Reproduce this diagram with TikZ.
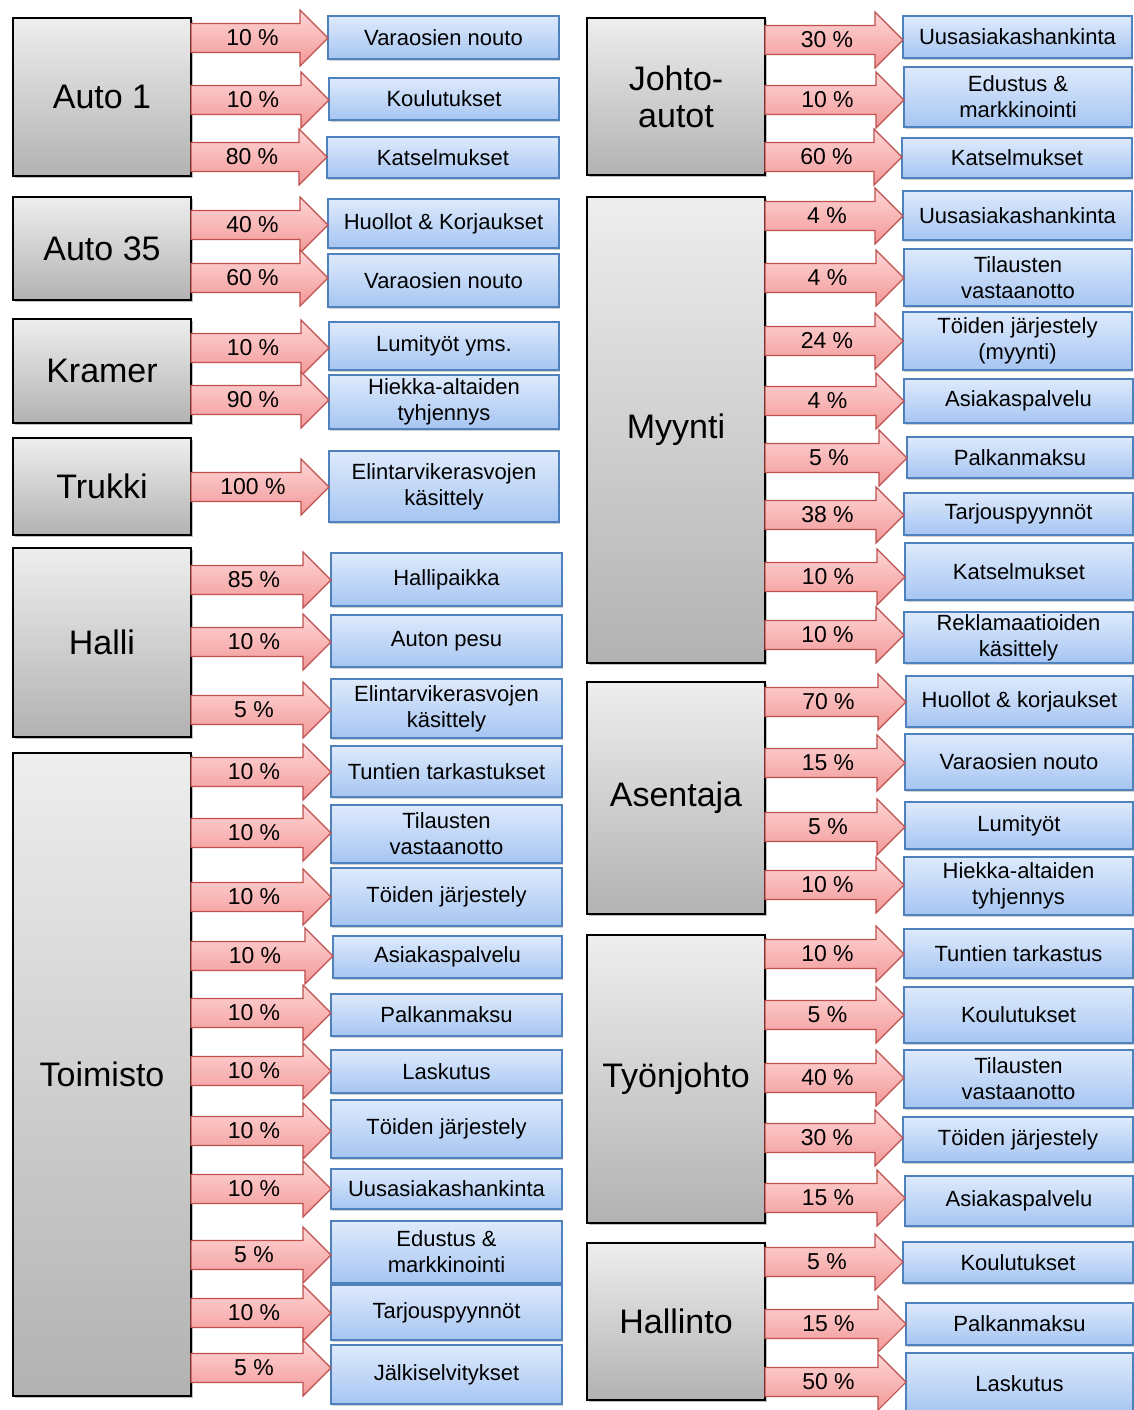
\documentclass[tikz,border=0pt]{standalone}
\usepackage{fontspec}
\setmainfont{Liberation Sans}
\usetikzlibrary{calc,shadows}

\definecolor{srcTop}{RGB}{238,238,238}
\definecolor{srcBot}{RGB}{178,178,178}
\definecolor{dstTop}{RGB}{222,234,252}
\definecolor{dstBot}{RGB}{166,197,242}
\definecolor{dstLine}{RGB}{79,129,189}
\definecolor{arrTop}{RGB}{255,214,214}
\definecolor{arrBot}{RGB}{242,152,152}
\definecolor{arrLine}{RGB}{192,80,77}

\tikzset{
  unit/.style={draw=black, line width=1.3pt, top color=srcTop, bottom color=srcBot,
    font=\fontsize{34}{37}\selectfont, align=center, inner sep=0pt, outer sep=0pt,
    drop shadow={shadow xshift=1.5pt, shadow yshift=-2pt, opacity=0.35, fill=black!70}},
  task/.style={draw=dstLine, line width=1.3pt, top color=dstTop, bottom color=dstBot,
    font=\fontsize{22}{26}\selectfont, align=center, inner sep=0pt, outer sep=0pt,
    drop shadow={shadow xshift=1.2pt, shadow yshift=-2pt, opacity=0.3, fill=black!60}},
  share/.style={draw=arrLine, line width=1.1pt, top color=arrTop, bottom color=arrBot,
    line join=miter},
  pct/.style={font=\fontsize{23}{25}\selectfont, inner sep=0pt}
}

% box from its corners: style, name, x1, y1, x2, y2, text
\newcommand\place[7]{%
  \pgfmathsetmacro\bw{#5-#3}\pgfmathsetmacro\bh{#6-#4}%
  \pgfmathsetmacro\bx{(#3+#5)/2}\pgfmathsetmacro\by{(#4+#6)/2}%
  \node[#1, minimum width=\bw pt, minimum height=\bh pt] (#2) at (\bx,\by) {#7};}

% block arrow from a unit to a task at height y, with its share
\newcounter{flw}
\newcommand\flow[4]{%
  \stepcounter{flw}%
  \coordinate (fy\theflw) at (0,#3);
  \coordinate (fs\theflw) at (#1.east |- fy\theflw);
  \coordinate (ft\theflw) at (#2.west |- fy\theflw);
  \filldraw[share] ($(fs\theflw)+(0,-14.5)$) -- ($(ft\theflw)+(-28,-14.5)$)
    -- ($(ft\theflw)+(-28,-28)$) -- (ft\theflw) -- ($(ft\theflw)+(-28,28)$)
    -- ($(ft\theflw)+(-28,14.5)$) -- ($(fs\theflw)+(0,14.5)$) -- cycle;
  \node[pct] (fl\theflw) at ($(fs\theflw)!0.5!(ft\theflw)+(-7,0)$) {#4};}

\begin{document}
\begin{tikzpicture}[x=1pt,y=-1pt]
\fill[white] (0,0) rectangle (1134,1410);
\useasboundingbox (0,0) rectangle (1134,1410);

% ---------- left column: units ----------
\place{unit}{auto1}{13}{18}{191}{176}{Auto 1}
\place{unit}{auto35}{13}{197}{191}{300}{Auto 35}
\place{unit}{kramer}{13}{319}{191}{423}{Kramer}
\place{unit}{trukki}{13}{438}{191}{535}{Trukki}
\place{unit}{halli}{13}{548}{191}{737}{Halli}
\place{unit}{toimisto}{13}{753}{191}{1396}{Toimisto}

% ---------- left column: tasks ----------
\place{task}{a1}{328}{16}{559}{59}{Varaosien nouto}
\place{task}{a2}{329}{78}{559}{120}{Koulutukset}
\place{task}{a3}{327}{137}{559}{178}{Katselmukset}
\place{task}{b1}{328}{199}{559}{248}{Huollot \& Korjaukset}
\place{task}{b2}{328}{254}{559}{307}{Varaosien nouto}
\place{task}{c1}{329}{322}{559}{370}{Lumityöt yms.}
\place{task}{c2}{329}{375}{559}{429}{Hiekka-altaiden\\tyhjennys}
\place{task}{d1}{329}{451}{559}{522}{Elintarvikerasvojen\\käsittely}
\place{task}{e1}{331}{553}{562}{606}{Hallipaikka}
\place{task}{e2}{331}{615}{562}{667}{Auton pesu}
\place{task}{e3}{331}{679}{562}{738}{Elintarvikerasvojen\\käsittely}
\place{task}{f1}{331}{746}{562}{797}{Tuntien tarkastukset}
\place{task}{f2}{331}{805}{562}{863}{Tilausten\\vastaanotto}
\place{task}{f3}{331}{868}{562}{926}{Töiden järjestely}
\place{task}{f4}{333}{936}{562}{978}{Asiakaspalvelu}
\place{task}{f5}{331}{994}{562}{1036}{Palkanmaksu}
\place{task}{f6}{331}{1050}{562}{1093}{Laskutus}
\place{task}{f7}{331}{1100}{562}{1158}{Töiden järjestely}
\place{task}{f8}{331}{1169}{562}{1209}{Uusasiakashankinta}
\place{task}{f9}{331}{1221}{562}{1283}{Edustus \&\\markkinointi}
\place{task}{f10}{331}{1285}{562}{1340}{Tarjouspyynnöt}
\place{task}{f11}{331}{1345}{562}{1404}{Jälkiselvitykset}

% ---------- left column: shares ----------
\flow{auto1}{a1}{38}{10 \%}
\flow{auto1}{a2}{100}{10 \%}
\flow{auto1}{a3}{157}{80 \%}
\flow{auto35}{b1}{225}{40 \%}
\flow{auto35}{b2}{278}{60 \%}
\flow{kramer}{c1}{348}{10 \%}
\flow{kramer}{c2}{400}{90 \%}
\flow{trukki}{d1}{487}{100 \%}
\flow{halli}{e1}{580}{85 \%}
\flow{halli}{e2}{642}{10 \%}
\flow{halli}{e3}{710}{5 \%}
\flow{toimisto}{f1}{772}{10 \%}
\flow{toimisto}{f2}{833}{10 \%}
\flow{toimisto}{f3}{897}{10 \%}
\flow{toimisto}{f4}{956}{10 \%}
\flow{toimisto}{f5}{1013}{10 \%}
\flow{toimisto}{f6}{1071}{10 \%}
\flow{toimisto}{f7}{1131}{10 \%}
\flow{toimisto}{f8}{1189}{10 \%}
\flow{toimisto}{f9}{1255}{5 \%}
\flow{toimisto}{f10}{1313}{10 \%}
\flow{toimisto}{f11}{1368}{5 \%}

% ---------- right column: units ----------
\place{unit}{johto}{587}{18}{765}{175}{Johto-\\autot}
\place{unit}{myynti}{587}{197}{765}{663}{Myynti}
\place{unit}{asentaja}{587}{682}{765}{914}{Asentaja}
\place{unit}{tyonjohto}{587}{935}{765}{1223}{Työnjohto}
\place{unit}{hallinto}{587}{1243}{765}{1400}{Hallinto}

% ---------- right column: tasks ----------
\place{task}{g1}{903}{16}{1132}{58}{Uusasiakashankinta}
\place{task}{g2}{904}{67}{1132}{127}{Edustus \&\\markkinointi}
\place{task}{g3}{902}{138}{1132}{178}{Katselmukset}
\place{task}{h1}{903}{191}{1132}{240}{Uusasiakashankinta}
\place{task}{h2}{904}{249}{1132}{306}{Tilausten\\vastaanotto}
\place{task}{h3}{903}{312}{1132}{370}{Töiden järjestely\\(myynti)}
\place{task}{h4}{904}{379}{1133}{423}{Asiakaspalvelu}
\place{task}{h5}{907}{437}{1133}{478}{Palkanmaksu}
\place{task}{h6}{904}{493}{1133}{535}{Tarjouspyynnöt}
\place{task}{h7}{905}{543}{1133}{600}{Katselmukset}
\place{task}{h8}{904}{612}{1133}{663}{Reklamaatioiden\\käsittely}
\place{task}{i1}{906}{676}{1133}{727}{Huollot \& korjaukset}
\place{task}{i2}{905}{734}{1133}{790}{Varaosien nouto}
\place{task}{i3}{905}{802}{1133}{849}{Lumityöt}
\place{task}{i4}{904}{857}{1133}{915}{Hiekka-altaiden\\tyhjennys}
\place{task}{j1}{904}{929}{1133}{978}{Tuntien tarkastus}
\place{task}{j2}{904}{987}{1133}{1043}{Koulutukset}
\place{task}{j3}{904}{1050}{1133}{1108}{Tilausten\\vastaanotto}
\place{task}{j4}{903}{1117}{1133}{1162}{Töiden järjestely}
\place{task}{j5}{905}{1176}{1133}{1226}{Asiakaspalvelu}
\place{task}{k1}{903}{1242}{1133}{1283}{Koulutukset}
\place{task}{k2}{906}{1303}{1133}{1345}{Palkanmaksu}
\place{task}{k3}{906}{1353}{1133}{1414}{Laskutus}

% ---------- right column: shares ----------
\flow{johto}{g1}{40}{30 \%}
\flow{johto}{g2}{100}{10 \%}
\flow{johto}{g3}{157}{60 \%}
\flow{myynti}{h1}{216}{4 \%}
\flow{myynti}{h2}{278}{4 \%}
\flow{myynti}{h3}{341}{24 \%}
\flow{myynti}{h4}{401}{4 \%}
\flow{myynti}{h5}{458}{5 \%}
\flow{myynti}{h6}{515}{38 \%}
\flow{myynti}{h7}{577}{10 \%}
\flow{myynti}{h8}{635}{10 \%}
\flow{asentaja}{i1}{702}{70 \%}
\flow{asentaja}{i2}{763}{15 \%}
\flow{asentaja}{i3}{827}{5 \%}
\flow{asentaja}{i4}{885}{10 \%}
\flow{tyonjohto}{j1}{954}{10 \%}
\flow{tyonjohto}{j2}{1015}{5 \%}
\flow{tyonjohto}{j3}{1078}{40 \%}
\flow{tyonjohto}{j4}{1138}{30 \%}
\flow{tyonjohto}{j5}{1198}{15 \%}
\flow{hallinto}{k1}{1262}{5 \%}
\flow{hallinto}{k2}{1324}{15 \%}
\flow{hallinto}{k3}{1382}{50 \%}
\end{tikzpicture}
\end{document}
